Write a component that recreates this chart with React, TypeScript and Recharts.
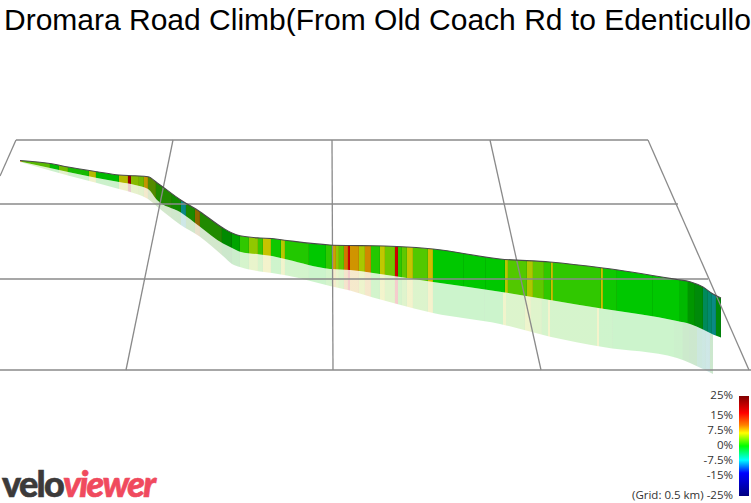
import React from "react";
import { ComposedChart, BarChart, Area, Line, Bar, XAxis, YAxis } from "recharts";

const W = 751;
const H = 503;

const titleText = "Dromara Road Climb(From Old Coach Rd to Edenticullo";
const legendTicks = [25, 15, 7.5, 0, -7.5, -15, -25];
const gridNote = "(Grid: 0.5 km) ";

// Projected ribbon outline.
const stationX = [20, 50, 68, 97, 119, 135, 148, 157, 180, 200, 223, 232, 240, 260, 272, 287, 330, 350, 373, 397, 433, 500, 550, 603, 677, 690, 703, 713, 721];
const ribbonTop = [160.5, 163.5, 167, 171.7, 175, 175.8, 176.7, 182.7, 199.5, 211.7, 228, 233, 235.8, 238, 238.5, 240.5, 245, 245.5, 245.7, 246.5, 249, 259, 262, 268, 279.5, 281.7, 287, 294, 298];
const ribbonMid = [161.5, 168, 172, 178, 182, 185, 189, 200, 212, 226.7, 243.5, 248, 251.7, 254.5, 256, 259.5, 269, 270, 273, 276.5, 282, 291.7, 300, 308.8, 321, 324, 329.5, 334.5, 337.5];
const ribbonBase = [162, 170.5, 175.5, 183, 189, 193.5, 199, 206.5, 224.5, 236.7, 256, 264, 267, 271.5, 273, 275.5, 286, 290.5, 297.5, 304, 313, 324, 336.7, 347, 358, 363, 369, 374, null];

// Gradient segments along the ribbon: right-hand end of each, and its grade (%).
const segmentEnd = [22, 50, 59, 68, 89, 96, 119, 128, 131, 139, 144, 148, 156, 172, 181, 186, 195, 200, 222, 232, 240, 249, 258, 263, 271, 281, 285, 309, 326, 332, 336, 339, 344, 348, 350, 359, 365, 371, 380, 385, 395, 397.5, 402, 407, 413, 428, 433, 464, 486, 505, 508, 527, 533, 544, 551, 553, 601, 603, 617, 653, 680, 688, 695, 703, 708, 712, 716, 721];
const segmentGrade = [7, 2, 0, 2.5, 0.5, 4, 0, 4, 16, 3, 2.5, 6, 2.5, 1, 0.5, -9, 0.8, 6.5, 1, 0, 0, 1, 3, 1.2, 4.5, 0.3, 3.8, 0.7, 0, 1, 6, 3, 2, 8.5, 13, 6.5, 3.5, 7, 0.7, 4, 2.3, 13, 1, 2, 4.3, 1.7, 5, 0, 0, 0, 3.8, 1.7, 3.6, 2, 1, 4.5, 1, 4.5, 0.3, 0, 0, 0, 0, -1, -6, -7.5, -9, -1];

const rampGrade = [-9, -7, -5, -2, 0, 1, 2, 3, 4, 5, 6, 7, 9, 13, 17];
const rampColour = [[14, 200, 193], [0, 200, 150], [0, 200, 110], [0, 200, 30], [0, 200, 0], [48, 200, 0], [96, 200, 0], [144, 200, 0], [192, 200, 0], [205, 190, 0], [208, 160, 0], [208, 136, 0], [208, 112, 0], [208, 0, 0], [150, 0, 0]];

const legendOffset = [0, 0.17, 0.29, 0.37, 0.5, 0.64, 0.77, 1];
const legendColour = ["#800000", "#ff0000", "#ff8000", "#ffff00", "#00ff00", "#00ffff", "#0000ff", "#000080"];

const gridSegments = [
  [[16, 140], [648, 140]],
  [[0, 204], [678, 204]],
  [[0, 279], [708, 279]],
  [[0, 370], [751, 370]],
  [[16, 140], [0, 176]],
  [[173, 140], [126, 370]],
  [[332, 140], [333, 370]],
  [[490, 140], [541, 370]],
  [[648, 140], [749, 370]],
];

const rows = stationX.map((x, i) => ({ x, top: ribbonTop[i], mid: ribbonMid[i], base: ribbonBase[i] }));

function gradeRgb(g: number) {
  let i = 0;
  while (i < rampGrade.length - 2 && g > rampGrade[i + 1]) i++;
  const t = Math.max(0, Math.min(1, (g - rampGrade[i]) / (rampGrade[i + 1] - rampGrade[i])));
  return rampColour[i].map((c, k) => c + (rampColour[i + 1][k] - c) * t);
}
function shadeAt(x: number) {
  if (x <= 148) return 0.93;
  if (x <= 232) return 0.69;
  if (x <= 240) return 0.82;
  if (x <= 680) return 1;
  if (x <= 688) return 0.92;
  if (x <= 695) return 0.75;
  return 0.69;
}
const css = (rgb: number[], k = 1) => `rgb(${rgb.map((c) => Math.round(c * k)).join(",")})`;
const pct = (x: number) => `${(x / W) * 100}%`;

function ribbonStops(shift: (x: number) => number) {
  const out: React.ReactElement[] = [];
  let start = 20;
  segmentEnd.forEach((end, i) => {
    const rgb = gradeRgb(segmentGrade[i]);
    const s = shadeAt(end);
    const a = start + shift(start);
    const b = end + shift(end);
    const col = css(rgb, s);
    const seam = css(rgb, s * 0.92);
    out.push(<stop key={`${i}a`} offset={pct(a)} stopColor={col} />);
    out.push(<stop key={`${i}b`} offset={pct(b - 0.6)} stopColor={col} />);
    out.push(<stop key={`${i}c`} offset={pct(b - 0.6)} stopColor={seam} />);
    out.push(<stop key={`${i}d`} offset={pct(b)} stopColor={seam} />);
    start = end;
  });
  return out;
}
const paleShift = (x: number) => (x > 430 ? -(x - 430) * 0.021 : 0);

function Ribbon() {
  return (
    <ComposedChart width={W} height={H} data={rows} margin={{ top: 0, right: 0, bottom: 0, left: 0 }}>
      <defs>
        <linearGradient id="ribbon" gradientUnits="userSpaceOnUse" x1="0" y1="0" x2={W} y2="0">
          {ribbonStops(() => 0)}
        </linearGradient>
        <linearGradient id="ribbonPale" gradientUnits="userSpaceOnUse" x1="0" y1="0" x2={W} y2="0">
          {ribbonStops(paleShift)}
        </linearGradient>
      </defs>
      <XAxis type="number" dataKey="x" domain={[0, W]} hide allowDataOverflow />
      <YAxis type="number" domain={[0, H]} reversed hide allowDataOverflow />
      {gridSegments.map((seg, i) => (
        <Line
          key={i}
          data={seg.map(([x, y]) => ({ x, grid: y }))}
          dataKey="grid"
          stroke="#8a8a8a"
          strokeWidth={1.3}
          dot={false}
          activeDot={false}
          legendType="none"
          isAnimationActive={false}
        />
      ))}
      <Area
        dataKey={(d: any) => (d.base == null ? null : [d.mid, d.base])}
        fill="url(#ribbonPale)"
        fillOpacity={0.2}
        stroke="none"
        type="monotone"
        dot={false}
        activeDot={false}
        isAnimationActive={false}
      />
      <Area
        dataKey={(d: any) => [d.top, d.mid]}
        fill="url(#ribbon)"
        fillOpacity={1}
        stroke="none"
        type="monotone"
        dot={false}
        activeDot={false}
        isAnimationActive={false}
      />
      <Line dataKey="top" stroke="#4a4a4a" strokeWidth={1.1} dot={false} activeDot={false} type="monotone" isAnimationActive={false} />
    </ComposedChart>
  );
}

function LegendTick({ x, y, payload }: any) {
  const v = payload.value;
  return (
    <text x={x} y={y} dy={3} textAnchor="end" fontFamily="'Open Sans'" fontSize={11.5} fill="#333">
      {v === -25 ? `${gridNote}${v}%` : `${v}%`}
    </text>
  );
}

function GradeLegend() {
  return (
    <BarChart
      width={131}
      height={118}
      data={[{ name: "grade", range: [-25, 25] }]}
      margin={{ top: 11, right: 2, bottom: 7, left: 0 }}
      barCategoryGap={0}
    >
      <defs>
        <linearGradient id="legendRamp" x1="0" y1="0" x2="0" y2="1">
          {legendOffset.map((o, i) => (
            <stop key={i} offset={o} stopColor={legendColour[i]} />
          ))}
        </linearGradient>
      </defs>
      <XAxis dataKey="name" hide />
      <YAxis
        type="number"
        width={119}
        domain={[-25, 25]}
        ticks={legendTicks}
        interval={0}
        axisLine={false}
        tickLine={false}
        tickSize={0}
        tickMargin={6}
        tick={<LegendTick />}
      />
      <Bar dataKey="range" fill="url(#legendRamp)" activeBar={false} isAnimationActive={false} />
    </BarChart>
  );
}

export default function App() {
  return (
    <div style={{ position: "absolute", left: 0, top: 0, width: W, height: H, overflow: "hidden", background: "#fff" }}>
      <div style={{ position: "absolute", left: 0, top: 0 }}>
        <Ribbon />
      </div>
      <div
        style={{
          position: "absolute",
          left: 4,
          top: 3,
          width: W - 4,
          overflow: "hidden",
          whiteSpace: "nowrap",
          fontFamily: "'Liberation Sans'",
          fontSize: 30,
          lineHeight: "34px",
          color: "#000",
        }}
      >
        {titleText}
      </div>
      <div style={{ position: "absolute", left: 620, top: 385 }}>
        <GradeLegend />
      </div>
      <div
        style={{
          position: "absolute",
          left: 2,
          top: 463,
          fontFamily: "Lato",
          fontWeight: 900,
          fontSize: 36,
          lineHeight: "40px",
          letterSpacing: -1.7,
          whiteSpace: "nowrap",
          WebkitTextStroke: "0.6px",
        }}
      >
        <span style={{ color: "#3c3a3a" }}>velo</span>
        <span style={{ color: "#f04a5e", fontStyle: "italic" }}>viewer</span>
      </div>
    </div>
  );
}
